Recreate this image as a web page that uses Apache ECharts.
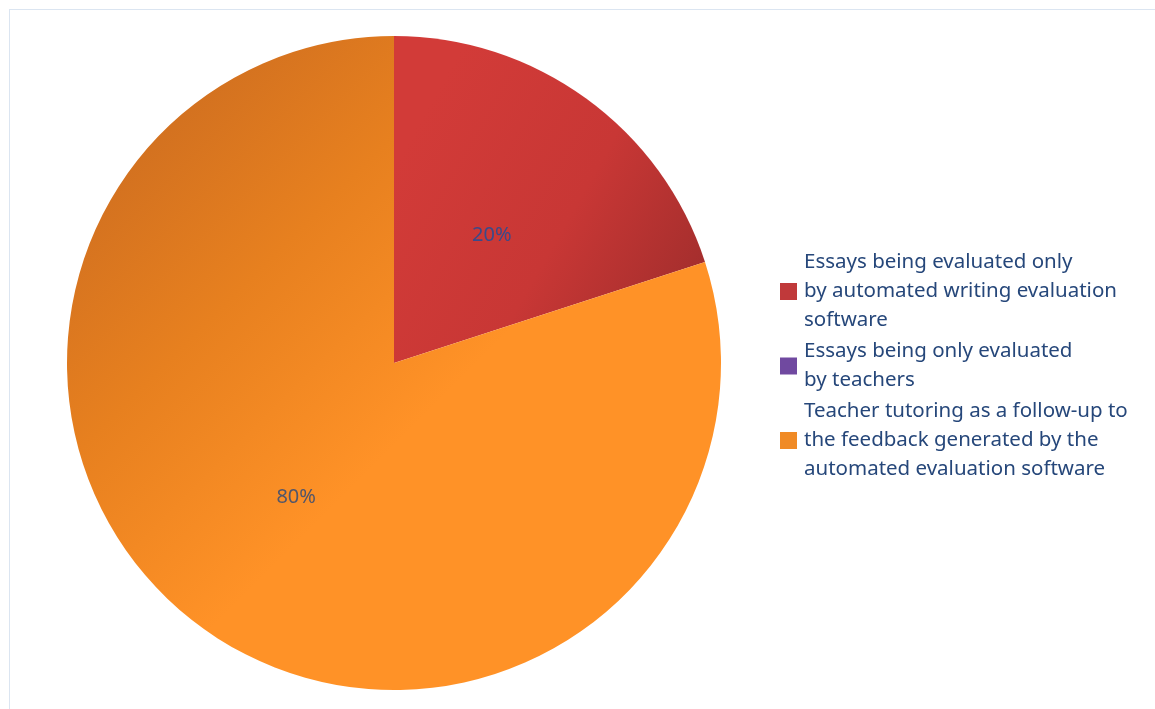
<!DOCTYPE html>
<html><head><meta charset="utf-8">
<script src="https://cdn.jsdelivr.net/npm/echarts@6/dist/echarts.min.js"></script>
<style>html,body{margin:0;padding:0;background:#fff}#frame{position:absolute;left:9px;top:9px;width:1146px;height:700px;border-left:1px solid #dbe5f1;border-top:1px solid #dbe5f1;box-sizing:border-box}#c{position:absolute;left:0;top:0;width:1155px;height:709px}</style>
</head><body><div id="frame"></div><div id="c"></div>
<script>
const categories = [
  "Essays being evaluated only\nby automated writing evaluation\nsoftware",
  "Essays being only evaluated\nby teachers",
  "Teacher tutoring as a follow-up to\nthe feedback generated by the\nautomated evaluation software"
];
const values = [20, 0, 80];
const colors = [
  {type:'linear', global:true, x:420, y:120, x2:700, y2:280, colorStops:[{offset:0,color:'#D23B38'},{offset:0.55,color:'#C83735'},{offset:1,color:'#A42E2D'}]},
  '#7049A0',
  {type:'linear', global:true, x:110, y:110, x2:420, y2:420, colorStops:[{offset:0,color:'#CD6D20'},{offset:0.5,color:'#E7801F'},{offset:1,color:'#FF9227'}]}
];
const legendColors = ['#C0393A', '#7049A0', '#F08A25'];
const chart = echarts.init(document.getElementById('c'), null, {renderer:'canvas'});
chart.setOption({
  animation:false,
  backgroundColor:'transparent',
  legend:{
    orient:'vertical', left:775, top:243,
    itemWidth:17, itemHeight:17, itemGap:2,
    icon:'rect',
    data: categories.map((n,i)=>({name:n, itemStyle:{color:legendColors[i]}})),
    textStyle:{fontFamily:'Noto Sans', fontSize:20.5, color:'#26477A', lineHeight:29, padding:[0,0,0,2]}
  },
  series:[{
    type:'pie', center:[394,363], radius:327, startAngle:90, clockwise:true,
    minAngle:0, avoidLabelOverlap:false, stillShowZeroSum:true,
    data: categories.map((n,i)=>({name:n, value:values[i], itemStyle:{color:colors[i]},
      label:{show: values[i]>0, color: i===0 ? '#3A4A8A' : '#52566A'}})),
    label:{position:'inner', formatter:'{d}%', fontFamily:'Noto Sans', fontSize:20, color:'#404A6A'},
    labelLayout: function(p){ return p.dataIndex === 0 ? {dy: 7} : {}; },
    labelLine:{show:false},
    itemStyle:{borderWidth:0}
  }]
});
</script></body></html>
